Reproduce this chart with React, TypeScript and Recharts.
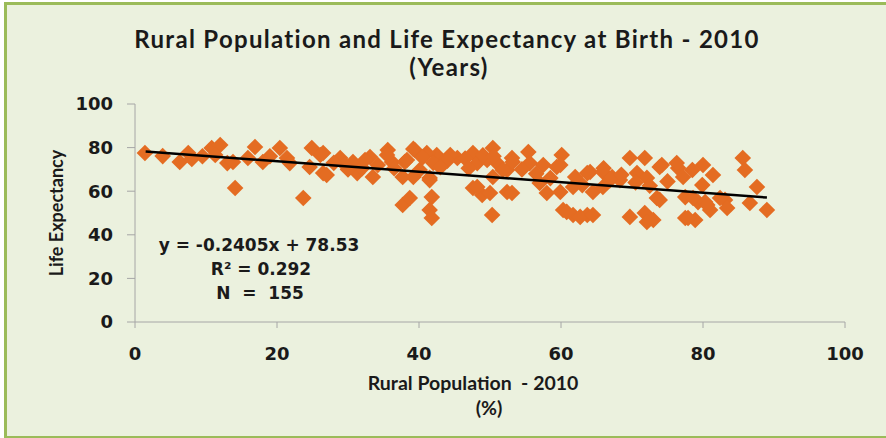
import React from "react";
import { ScatterChart, Scatter, XAxis, YAxis } from "recharts";

const ruralPct: number[] = [
  1.4, 3.9, 6.3, 7.5, 8.0, 10.8, 12.0, 11.3, 13.0, 13.8, 14.1, 16.9, 15.9, 18.0, 20.4, 21.4, 21.8, 23.7, 24.9, 26.1,
  24.6, 26.5, 26.5, 27.0, 28.9, 30.7, 31.3, 33.1, 33.5, 35.6, 36.2, 37.7, 38.7, 39.4, 38.0, 37.7, 40.1, 41.5, 41.8, 41.5,
  41.8, 42.5, 45.4, 43.4, 47.6, 48.2, 47.6, 48.9, 50.4, 49.6, 51.0, 52.4, 52.4, 50.3, 53.1, 50.4, 53.2, 53.1, 55.4, 55.6,
  57.5, 60.1, 59.9, 57.0, 58.0, 59.9, 60.3, 61.7, 63.7, 63.0, 64.1, 64.5, 65.9, 66.9, 68.3, 69.7, 71.8, 70.7, 72.1, 69.7,
  71.8, 72.1, 73.5, 74.2, 76.5, 77.2, 77.5, 77.5, 80.0, 79.9, 79.3, 81.4, 78.5, 78.6, 80.3, 81.0, 83.1, 83.4, 85.6, 85.9,
  87.6, 86.6, 89.0, 78.9, 39.2, 38.3, 41.1, 44.4, 35.5, 39.2, 41.5, 48.2, 50.0, 51.8, 59.4, 61.7, 63.7, 67.2, 65.9, 73.9,
  76.3, 73.9, 60.8, 62.7, 64.5, 73.0, 77.9, 82.4, 80.6, 29.6, 32.0, 34.2, 32.4, 28.0, 30.0, 36.5, 40.5, 42.0, 44.0, 46.5,
  49.0, 50.5, 43.0, 47.0, 54.5, 56.5, 58.5, 62.0, 66.0, 68.5, 70.5, 72.5, 75.0, 19.0, 9.5,
];

const lifeExp: number[] = [
  77.5, 76.1, 73.4, 77.5, 74.8, 79.8, 81.2, 76.6, 72.9, 73.4, 61.5, 80.3, 75.2, 73.4, 79.8, 75.2, 72.9, 56.9, 79.8, 76.6,
  71.1, 68.3, 77.5, 67.4, 75.2, 73.4, 68.3, 75.7, 66.5, 78.9, 73.4, 53.7, 56.9, 78.9, 73.4, 66.5, 69.7, 65.1, 57.3, 51.4,
  47.7, 76.6, 75.2, 72.9, 77.5, 72.9, 61.5, 58.3, 79.8, 74.3, 72.9, 69.7, 59.6, 49.1, 75.2, 66.5, 73.4, 59.2, 78.0, 72.9,
  72.0, 76.6, 72.0, 63.8, 59.2, 59.6, 51.4, 49.1, 49.1, 62.8, 68.8, 59.6, 68.8, 65.1, 65.1, 75.2, 75.2, 68.3, 66.1, 48.2,
  50.0, 45.9, 56.9, 72.0, 70.6, 66.5, 57.3, 47.7, 72.0, 62.8, 55.0, 67.4, 69.7, 56.9, 55.0, 51.4, 56.0, 52.3, 75.2, 69.7,
  61.9, 54.6, 51.4, 46.8, 79.4, 74.3, 77.5, 76.6, 76.6, 66.5, 66.1, 61.9, 59.2, 69.7, 71.1, 61.9, 68.3, 66.5, 61.9, 71.1,
  72.9, 56.0, 50.5, 48.2, 49.1, 46.8, 47.7, 56.9, 53.7, 72.0, 70.6, 72.0, 74.3, 73.0, 70.0, 70.5, 75.5, 73.0, 74.0, 75.0,
  76.5, 76.0, 71.0, 70.5, 70.0, 68.0, 66.0, 66.5, 70.5, 67.5, 64.0, 62.5, 64.5, 76.0, 76.0,
];

const trendX: number[] = [1.5, 89.0];
const trendY: number[] = [78.2, 57.1];

const xTicks: number[] = [0, 20, 40, 60, 80, 100];
const yTicks: number[] = [0, 20, 40, 60, 80, 100];

const titleLines: string[] = ["Rural Population and Life Expectancy at Birth - 2010", "(Years)"];
const xTitleLines: string[] = ["Rural Population  - 2010", "(%)"];
const yTitle = "Life Expectancy";
const statLines: string[] = ["y = -0.2405x + 78.53", "R² = 0.292", "N  =  155"];

const points = ruralPct.map((x, i) => ({ x, y: lifeExp[i] }));
const trend = trendX.map((x, i) => ({ x, y: trendY[i] }));

const ORANGE = "#E46C22";

const Diamond = (props: any) => {
  const { cx, cy } = props;
  if (cx == null || cy == null) return <g />;
  const r = 8.3;
  return <path d={`M${cx},${cy - r}L${cx + r},${cy}L${cx},${cy + r}L${cx - r},${cy}Z`} fill={ORANGE} />;
};

const NoShape = () => <g />;

const tickStyle = { fontSize: 18, fontWeight: "bold" as const, fill: "#1a1a1a", fontFamily: "DejaVu Sans" };
const titleFont = "Lato, 'Liberation Sans', sans-serif";

const abs = (x: number, y: number, extra: React.CSSProperties = {}): React.CSSProperties => ({
  position: "absolute",
  left: x,
  top: y,
  transform: "translate(-50%, -50%)",
  whiteSpace: "pre",
  color: "#1a1a1a",
  lineHeight: 1,
  ...extra,
});

export default function App() {
  return (
    <div style={{ position: "absolute", left: 0, top: 0, width: 886, height: 438, background: "#fff", overflow: "hidden" }}>
      <div
        style={{
          position: "absolute",
          left: 4,
          top: 2,
          width: 882,
          height: 436,
          boxSizing: "border-box",
          background: "#EBF1DE",
          borderLeft: "3px solid #9BBB59",
          borderTop: "3px solid #9BBB59",
          borderBottom: "2px solid #9BBB59",
        }}
      />
      <div style={{ position: "absolute", left: 0, top: 0 }}>
        <ScatterChart width={886} height={438} margin={{ top: 104, right: 41, bottom: 76, left: 0 }}>
          <XAxis
            type="number"
            dataKey="x"
            domain={[0, 100]}
            ticks={xTicks}
            height={40}
            stroke="#A6A6A6"
            tickSize={6}
            tickMargin={19}
            tick={tickStyle}
            allowDataOverflow
          />
          <YAxis
            type="number"
            dataKey="y"
            domain={[0, 100]}
            ticks={yTicks}
            width={135}
            stroke="#A6A6A6"
            tickSize={8}
            tickMargin={14}
            tick={tickStyle}
            allowDataOverflow
          />
          <Scatter data={points} shape={Diamond} isAnimationActive={false} />
          <Scatter
            data={trend}
            shape={NoShape}
            line={{ stroke: "#000", strokeWidth: 2.5 }}
            isAnimationActive={false}
          />
        </ScatterChart>
      </div>
      <div style={abs(447, 39, { fontFamily: titleFont, fontWeight: "bold", fontSize: 24, letterSpacing: 1.3 })}>{titleLines[0]}</div>
      <div style={abs(449, 67, { fontFamily: titleFont, fontWeight: "bold", fontSize: 24, letterSpacing: 1.3 })}>{titleLines[1]}</div>
      <div style={abs(473, 383, { fontFamily: titleFont, fontWeight: "bold", fontSize: 19.5 })}>{xTitleLines[0]}</div>
      <div style={abs(489, 408, { fontFamily: titleFont, fontWeight: "bold", fontSize: 19.5 })}>{xTitleLines[1]}</div>
      <div style={abs(56, 213, { fontFamily: titleFont, fontWeight: "bold", fontSize: 18, transform: "translate(-50%, -50%) rotate(-90deg)" })}>
        {yTitle}
      </div>
      <div style={abs(259, 245, { fontFamily: "DejaVu Sans", fontWeight: "bold", fontSize: 17 })}>{statLines[0]}</div>
      <div style={abs(261, 269, { fontFamily: "DejaVu Sans", fontWeight: "bold", fontSize: 17 })}>{statLines[1]}</div>
      <div style={abs(260, 293, { fontFamily: "DejaVu Sans", fontWeight: "bold", fontSize: 17 })}>{statLines[2]}</div>
    </div>
  );
}
